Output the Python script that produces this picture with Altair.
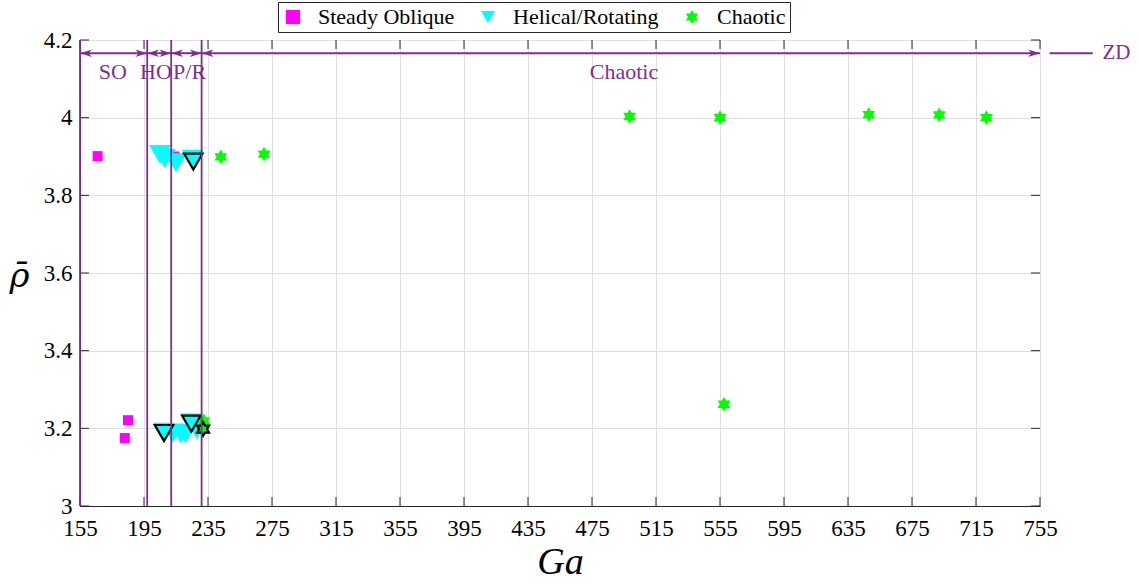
import altair as alt
import pandas as pd

# Axis ticks
ga_ticks = list(range(155, 756, 40))
rho_ticks = [3.0, 3.2, 3.4, 3.6, 3.8, 4.0, 4.2]

regimes = ["Steady Oblique", "Helical/Rotating", "Chaotic"]
colors = ["#FF00FF", "#00FFFF", "#00FF00"]

# Six-pointed star marker
HEXAGRAM = ("M0,-1 L0.2887,-0.5 L0.866,-0.5 L0.5774,0 L0.866,0.5 L0.2887,0.5 "
            "L0,1 L-0.2887,0.5 L-0.866,0.5 L-0.5774,0 L-0.866,-0.5 L-0.2887,-0.5 Z")
shapes = ["square", "triangle-down", HEXAGRAM]

# Steady oblique runs
so_ga = [166, 185, 183, 214]
so_rho = [3.901, 3.221, 3.175, 3.900]

# Helical / rotating runs
hr_ga = [205, 208, 215, 225.5, 207.5, 213, 218, 221, 224.6, 228]
hr_rho = [3.905, 3.895, 3.884, 3.893, 3.190, 3.188, 3.186, 3.186, 3.214, 3.196]

# Chaotic runs
ch_ga = [243, 270, 498.5, 555, 648, 692, 721.5, 557.5, 231.9, 232.5]
ch_rho = [3.899, 3.906, 4.003, 4.000, 4.008, 4.007, 4.000, 3.262, 3.198, 3.219]

# Runs outlined in black
hl_ga = [225.8, 207.5, 224.6, 231.9]
hl_rho = [3.887, 3.188, 3.212, 3.198]
hl_shape = ["triangle-down", "triangle-down", "triangle-down", HEXAGRAM]

# Regime boundaries and labels
bounds = [155, 197, 212, 231]
span_start = [155, 197, 212, 231]
span_end = [197, 212, 231, 755]
span_label = ["SO", "HO", "P/R", "Chaotic"]
span_label_ga = [175.5, 202.5, 223.5, 495]
arrow_rho = 4.166
label_rho = 4.118

# Zone beyond the plotted range
zd_start, zd_end, zd_text_ga = 761, 788, 794

PURPLE = "#7E2F8E"
FONT = "Liberation Serif"
INK = "#262626"

points = pd.DataFrame({
    "ga": so_ga + hr_ga + ch_ga,
    "rho": so_rho + hr_rho + ch_rho,
    "regime": [regimes[0]] * len(so_ga) + [regimes[1]] * len(hr_ga) + [regimes[2]] * len(ch_ga),
    "order": list(range(len(so_ga) + len(hr_ga) + len(ch_ga))),
})
highlight = pd.DataFrame({"ga": hl_ga, "rho": hl_rho, "shape": hl_shape})

xs = alt.Scale(domain=[155, 755], nice=False, zero=False)
ys = alt.Scale(domain=[3.0, 4.2], nice=False, zero=False)
xaxis = alt.Axis(values=ga_ticks, title="Ga", titleFontStyle="italic", titleFontSize=38,
                 titleFont=FONT, titleFontWeight="normal", titleColor="black", titlePadding=3,
                 labelFont=FONT, labelFontSize=23, labelColor="black", labelPadding=11,
                 tickSize=0, grid=True, gridColor="#DFDFDF", domainColor=INK,
                 labelFlush=False, labelOverlap=False)
yaxis = alt.Axis(values=rho_ticks, format="~g", title="ρ̄", titleAngle=0, titleX=-61, titleY=236,
                 titleAlign="center", titleBaseline="middle", titleFontSize=34,
                 titleFont="DejaVu Serif", titleFontStyle="italic",
                 titleFontWeight="normal", titleColor="black",
                 labelFont=FONT, labelFontSize=23, labelColor="black", labelPadding=8,
                 tickSize=0, grid=True, gridColor="#DFDFDF", domainColor=INK,
                 labelFlush=False, labelOverlap=False)

X = lambda f="ga": alt.X(f"{f}:Q", scale=xs, axis=xaxis)
Y = lambda f="rho": alt.Y(f"{f}:Q", scale=ys, axis=yaxis)

legend = alt.Legend(title=None, orient="none", legendX=198, legendY=-38, direction="horizontal",
                    strokeColor=INK, fillColor="white", padding=4, labelFont=FONT,
                    labelFontSize=22, labelColor="black", labelOffset=14, symbolSize=200,
                    columnPadding=22, symbolStrokeWidth=0)

# Inward tick marks on all four sides
tl = 0.0232
tg = 5.6
ticks = pd.DataFrame(
    [{"ga": v, "ga2": v, "rho": 3.0, "rho2": 3.0 + tl} for v in ga_ticks]
    + [{"ga": v, "ga2": v, "rho": 4.2, "rho2": 4.2 - tl} for v in ga_ticks]
    + [{"ga": 155, "ga2": 155 + tg, "rho": v, "rho2": v} for v in rho_ticks]
    + [{"ga": 755, "ga2": 755 - tg, "rho": v, "rho2": v} for v in rho_ticks]
)
tick_layer = alt.Chart(ticks).mark_rule(color=INK, strokeWidth=1).encode(
    x=X(), x2="ga2:Q", y=Y(), y2="rho2:Q")

# Marker area per regime
size_expr = ("datum.regime === 'Steady Oblique' ? 100 : "
             "datum.regime === 'Helical/Rotating' ? 480 : 215")

point_layer = alt.Chart(points).transform_calculate(msize=size_expr).mark_point(
    filled=True, opacity=1, strokeWidth=0).encode(
    x=X(), y=Y(),
    color=alt.Color("regime:N", scale=alt.Scale(domain=regimes, range=colors), legend=legend),
    shape=alt.Shape("regime:N", scale=alt.Scale(domain=regimes, range=shapes), legend=legend),
    size=alt.Size("msize:Q", scale=None, legend=None),
    order="order:Q",
)

hl_layer = alt.Chart(highlight).mark_point(filled=False, color="black", strokeWidth=2.2,
                                           opacity=1).encode(
    x=X(), y=Y(), shape=alt.Shape("shape:N", scale=None),
    size=alt.condition(alt.datum.shape == "triangle-down", alt.value(340), alt.value(190)))

bound_df = pd.DataFrame({"ga": bounds, "rho": [3.0] * len(bounds), "rho2": [4.2] * len(bounds)})
bound_layer = alt.Chart(bound_df).mark_rule(color=PURPLE, strokeWidth=1.8).encode(
    x=X(), y=Y(), y2="rho2:Q")

span_df = pd.DataFrame({"ga": span_start, "ga2": span_end, "rho": [arrow_rho] * 4})
span_layer = alt.Chart(span_df).mark_rule(color=PURPLE, strokeWidth=2).encode(
    x=X(), x2="ga2:Q", y=Y())

HEAD_R = "M0,0 L-1,-0.32 L-0.72,0 L-1,0.32 Z"
HEAD_L = "M0,0 L1,-0.32 L0.72,0 L1,0.32 Z"
heads = pd.DataFrame({
    "ga": span_end + span_start,
    "rho": [arrow_rho] * 8,
    "shape": [HEAD_R] * 4 + [HEAD_L] * 4,
})
head_layer = alt.Chart(heads).mark_point(filled=True, color=PURPLE, opacity=1, size=560,
                                         strokeWidth=0).encode(
    x=X(), y=Y(), shape=alt.Shape("shape:N", scale=None))

label_df = pd.DataFrame({"ga": span_label_ga, "rho": [label_rho] * 4, "text": span_label})
label_layer = alt.Chart(label_df).mark_text(font=FONT, fontSize=22, color=PURPLE,
                                            baseline="middle", align="center").encode(
    x=X(), y=Y(), text="text:N")

zd_line = alt.Chart(pd.DataFrame({"ga": [zd_start], "ga2": [zd_end], "rho": [arrow_rho]})).mark_rule(
    color=PURPLE, strokeWidth=2).encode(x=X(), x2="ga2:Q", y=Y())
zd_text = alt.Chart(pd.DataFrame({"ga": [zd_text_ga], "rho": [arrow_rho], "text": ["ZD"]})).mark_text(
    font=FONT, fontSize=21, color=PURPLE, align="left", baseline="middle").encode(
    x=X(), y=Y(), text="text:N")

chart = alt.layer(
    tick_layer, point_layer, hl_layer, bound_layer, span_layer, head_layer,
    label_layer, zd_line, zd_text,
).properties(
    width=960, height=466,
    autosize=alt.AutoSizeParams(type="none"),
    padding={"left": 80, "top": 40, "right": 100, "bottom": 78},
    background="white",
).configure_view(stroke=INK, strokeWidth=1)

chart.save("out.html", embed_options={"renderer": "svg", "actions": False})
